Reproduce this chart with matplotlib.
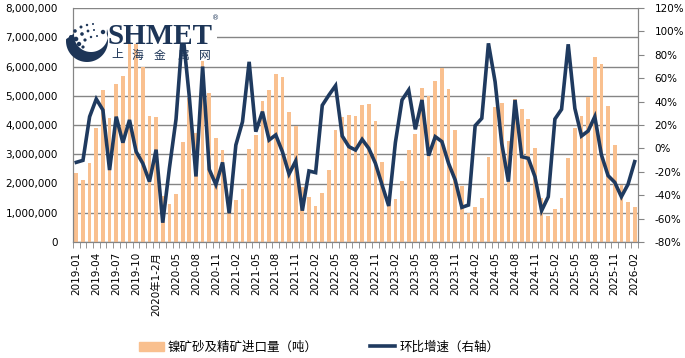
import numpy as np
import matplotlib
matplotlib.use('Agg')
import matplotlib.pyplot as plt
from matplotlib.ticker import FuncFormatter, MultipleLocator
from matplotlib.patches import Rectangle, Circle, Polygon
from matplotlib.lines import Line2D

plt.rcParams['font.family'] = ['DejaVu Sans', 'Noto Sans CJK SC']

#----------------------------------------------- DATA -----------------------------------------------#
# month labels: 2019-01 .. 2019-12, then Jan+Feb 2020 combined, then 2020-03 .. 2026-02
months = ['2019-%02d' % m for m in range(1, 13)] + ['2020年1-2月']
months += ['2020-%02d' % m for m in range(3, 13)]
for yr in range(2021, 2026):
    months += ['%d-%02d' % (yr, m) for m in range(1, 13)]
months += ['2026-01', '2026-02']

# nickel ore & concentrate imports (tonnes)
imports = [2360000, 2120000, 2700000, 3910000, 5180000, 4250000, 5400000, 5680000, 7060000, 6860000,
           5970000, 4300000, 4280000, 1570000, 1300000, 1640000, 3420000, 4920000, 3730000, 6190000,
           5090000, 3570000, 3150000, 1400000, 1440000, 1810000, 3180000, 3660000, 4820000, 5180000,
           5750000, 5640000, 4450000, 3980000, 1870000, 1540000, 1230000, 1680000, 2460000, 3830000,
           4280000, 4340000, 4310000, 4690000, 4720000, 4140000, 2740000, 1390000, 1470000, 2090000,
           3150000, 3690000, 5270000, 4990000, 5510000, 5960000, 5230000, 3830000, 1920000, 1000000,
           1200000, 1500000, 2920000, 4600000, 4750000, 3450000, 4880000, 4560000, 4220000, 3230000,
           1500000, 890000, 1130000, 1500000, 2870000, 3910000, 4310000, 4970000, 6330000, 6100000,
           4650000, 3320000, 1950000, 1380000, 1210000]

# month-on-month growth (%), right axis
mom = [-11.9, -10.2, 27.1, 42.2, 32.8, -18.5, 27.1, 4.9, 24.3, -2.8,
       -12.8, -28.4, -1.1, -63.5, -17.0, 25.0, 100.0, 44.0, -24.0, 70.0,
       -18.0, -31.0, -12.0, -55.5, 2.9, 22.8, 74.0, 14.3, 31.4, 7.2,
       11.5, -2.8, -21.9, -10.8, -53.2, -19.3, -20.7, 36.8, 45.6, 53.6,
       10.6, 1.5, -1.4, 7.7, 0.0, -12.8, -31.3, -49.2, 5.0, 41.4,
       49.9, 16.3, 41.4, -6.2, 10.0, 5.8, -12.8, -27.0, -50.4, -48.4,
       19.4, 25.7, 89.8, 57.0, 4.3, -28.4, 41.4, -7.1, -8.5, -24.2,
       -53.2, -41.3, 25.1, 33.4, 89.0, 34.2, 10.6, 14.9, 27.1, -5.6,
       -23.3, -29.0, -41.3, -30.7, -11.3]

bar_label = '镍矿砂及精矿进口量（吨）'
line_label = '环比增速（右轴）'

#----------------------------------------------- PLOT -----------------------------------------------#
bar_color = '#F9C08F'
line_color = '#1F3A5F'
grid_color = '#858585'

W, H = 685, 358
fig = plt.figure(figsize=(W / 100, H / 100), dpi=100)
ax = fig.add_axes([73 / W, 1 - 242 / H, 565 / W, 234 / H])

x = np.arange(len(months))
ax.bar(x, imports, width=0.55, color=bar_color, zorder=2)
ax.set_xlim(-0.5, len(months) - 0.5)
ax.set_ylim(0, 8000000)
ax.yaxis.set_major_locator(MultipleLocator(1000000))
ax.yaxis.set_major_formatter(FuncFormatter(lambda v, p: f'{v:,.0f}'))
ax.grid(axis='y', color=grid_color, lw=1, zorder=0)
ax.set_axisbelow(True)
ax.tick_params(axis='y', length=0, pad=11, labelsize=7.5)

ax.set_xticks(x[::3])
ax.set_xticklabels(months[::3], rotation=90)
ax.set_xticks(np.arange(-0.5, len(months), 1), minor=True)
ax.tick_params(axis='x', which='major', length=0, pad=7, labelsize=7.5)
ax.tick_params(axis='x', which='minor', length=4, color=grid_color)
for s in ['left', 'bottom', 'right']:
    ax.spines[s].set_color(grid_color)
ax.spines['top'].set_visible(False)

ax2 = ax.twinx()
ax2.plot(x, mom, color=line_color, lw=2.6, solid_joinstyle='miter')
ax2.set_ylim(-80, 120)
ax2.yaxis.set_major_locator(MultipleLocator(20))
ax2.yaxis.set_major_formatter(FuncFormatter(lambda v, p: f'{v:.0f}%'))
ax2.tick_params(axis='y', length=4, color=grid_color, pad=8, labelsize=7.5)
for s in ['left', 'bottom', 'right']:
    ax2.spines[s].set_color(grid_color)
ax2.spines['top'].set_visible(False)

handles = [Rectangle((0, 0), 1, 1, color=bar_color), Line2D([], [], color=line_color, lw=2.6)]
fig.legend(handles, [bar_label, line_label], loc='center', bbox_to_anchor=(0.466, 1 - 347 / H),
           ncol=2, frameon=False, fontsize=9, handlelength=2.0, handleheight=0.7,
           columnspacing=4.2, handletextpad=0.3)

#----------------------------------------------- LOGO -----------------------------------------------#
# overlay in pixel coords, the watermark logo sits on top of the chart
lax = fig.add_axes([0, 0, 1, 1])
lax.set_zorder(10)
lax.set_xlim(0, W)
lax.set_ylim(H, 0)
lax.axis('off')
lax.add_patch(Rectangle((75, 14), 142, 30, color='white', lw=0))

navy = '#1d3557'
cx, cy = 87, 41
t = np.radians(np.linspace(175, 380, 60))
outer = np.c_[cx + 21 * np.cos(t), cy - 21 * np.sin(t)]
inner = np.c_[cx + 4 + 17 * np.cos(t[::-1]), cy - 6 - 17 * np.sin(t[::-1])]
lax.add_patch(Polygon(np.r_[outer, inner], closed=True, color=navy, lw=0))
for dx, dy, r in [(-16, -4, 2.0), (-12, -10, 1.8), (-6, -14, 1.5), (0, -16, 1.2), (6, -17, 1.0),
                  (-11, -2, 2.3), (-5, -7, 1.8), (1, -10, 1.4), (7, -11, 1.0), (-14, 4, 2.4),
                  (-8, 3, 2.2), (-2, -1, 1.6), (4, -4, 1.2), (10, -5, 1.0), (-4, 6, 1.6),
                  (16, -9, 2.2)]:
    lax.add_patch(Circle((cx + dx, cy + dy), r, color=navy, lw=0))
lax.text(108, 43.5, 'SHMET', fontsize=21, fontweight='bold', family='Liberation Serif',
         color=navy, va='baseline', ha='left')
lax.text(216, 18, '®', fontsize=5, color=navy, ha='center', va='center')
for xc, ch in zip([117, 137, 160, 183, 205], '上海金属网'):
    lax.text(xc, 55, ch, fontsize=8.5, color=navy, ha='center', va='center',
             family=['Noto Sans CJK SC'])

plt.savefig('out.png', dpi=100)
